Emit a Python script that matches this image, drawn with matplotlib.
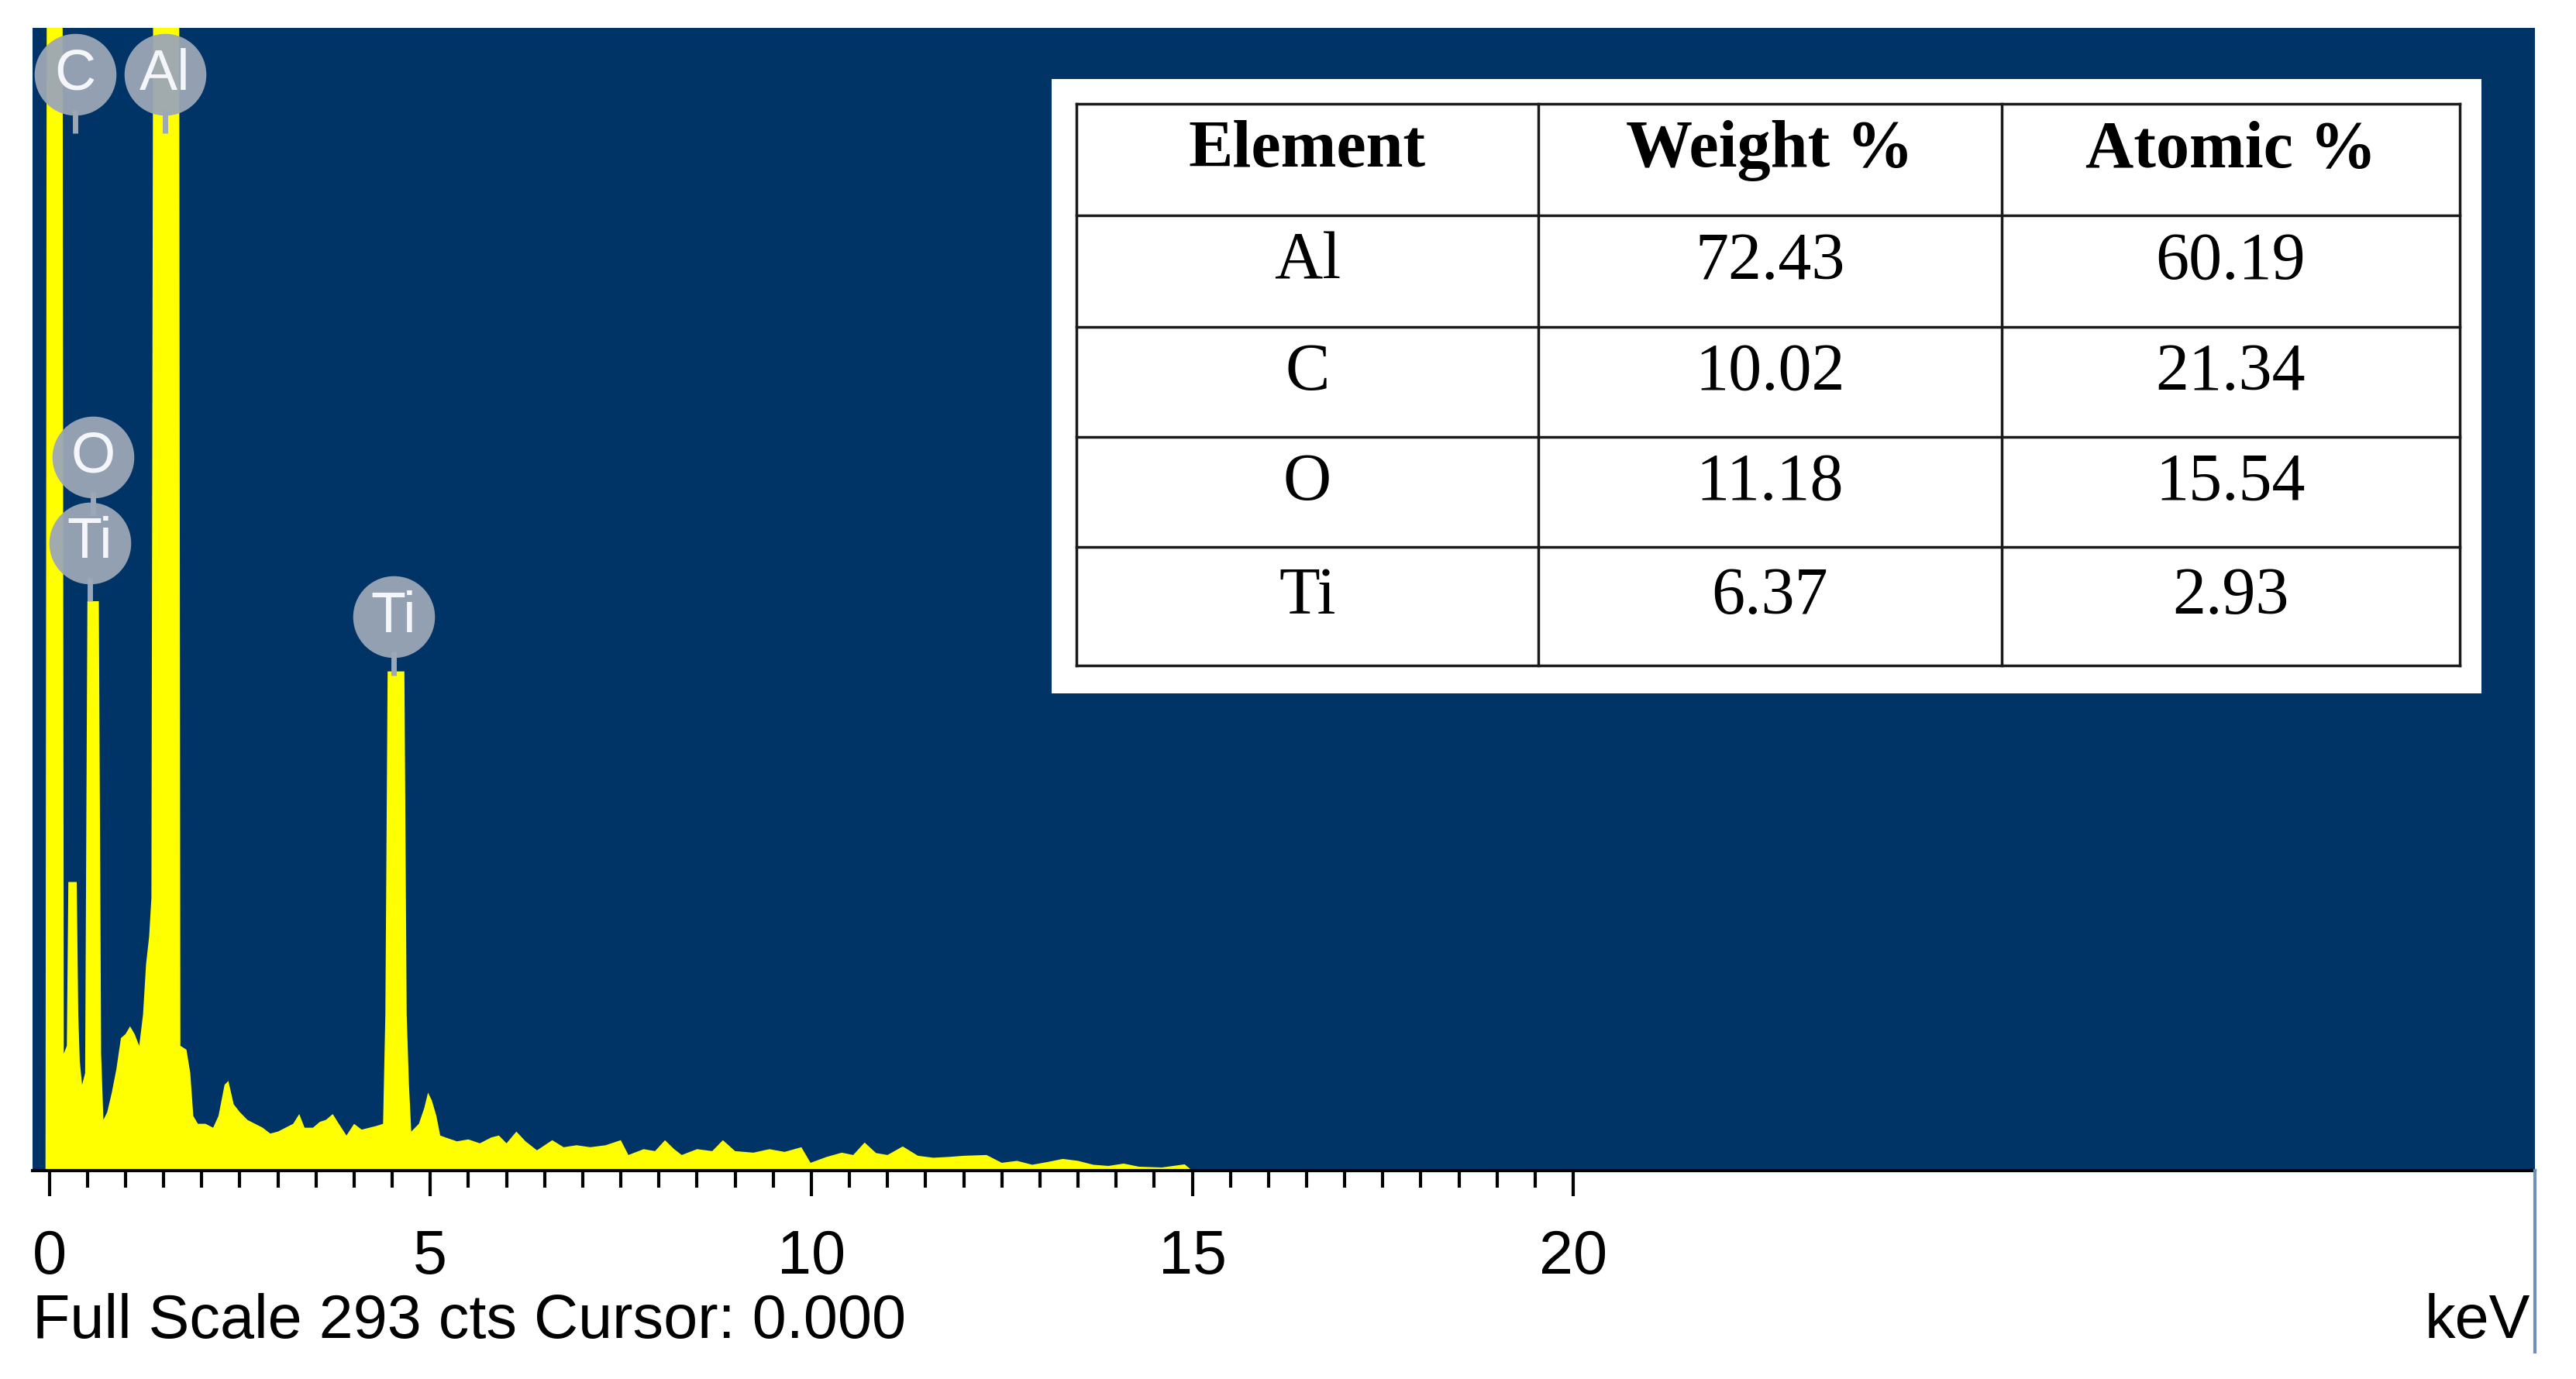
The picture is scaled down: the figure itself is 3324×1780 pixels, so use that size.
import matplotlib
matplotlib.use("Agg")
import matplotlib.pyplot as plt
from matplotlib.lines import Line2D
from matplotlib.ticker import FixedLocator

# EDS spectrum (keV, counts). Off-scale peaks set above full scale.
energy = [-0.05, -0.03, 0.17, 0.19, 0.23, 0.25, 0.36, 0.38, 0.40, 0.43, 0.47, 0.50, 0.65,
          0.68, 0.71, 0.76, 0.82, 0.88, 0.94, 1.00, 1.06, 1.12, 1.18, 1.23, 1.27, 1.31,
          1.34, 1.37, 1.70, 1.72, 1.80, 1.85, 1.89, 1.95, 2.05, 2.15, 2.22, 2.30, 2.35,
          2.42, 2.50, 2.60, 2.70, 2.80, 2.90, 3.00, 3.10, 3.20, 3.28, 3.35, 3.46, 3.55,
          3.63, 3.72, 3.80, 3.90, 4.00, 4.10, 4.20, 4.30, 4.38, 4.41, 4.44, 4.66, 4.69,
          4.72, 4.75, 4.85, 4.92, 4.97, 5.02, 5.08, 5.13, 5.20, 5.35, 5.50, 5.65, 5.80,
          5.90, 6.00, 6.13, 6.25, 6.40, 6.50, 6.60, 6.75, 6.92, 7.10, 7.30, 7.50, 7.60,
          7.80, 7.95, 8.08, 8.20, 8.30, 8.50, 8.70, 8.84, 9.00, 9.24, 9.45, 9.65, 9.87,
          9.99, 10.2, 10.4, 10.55, 10.7, 10.85, 11.0, 11.2, 11.4, 11.6, 11.8, 12.0, 12.3,
          12.5, 12.7, 12.9, 13.1, 13.3, 13.5, 13.7, 13.9, 14.1, 14.3, 14.6, 14.9, 15.0]
counts = [0, 380, 380, 30, 32, 74, 74, 40, 28, 22, 25, 146, 146,
          30, 13, 15, 20, 26, 34, 35, 37, 35, 32, 40, 53, 60,
          70, 380, 380, 32, 31, 25, 14, 12, 12, 11, 14, 22, 23,
          17, 15, 13, 12, 11, 9.5, 10, 11, 12, 14.5, 11, 11, 12.5,
          13, 14.5, 12, 9, 12, 10.5, 11, 11.5, 12, 40, 128, 128, 40,
          22, 10, 12, 16, 20, 18, 14, 9, 8.5, 7.5, 8, 7, 8.5,
          9, 7, 10, 7.5, 5.2, 6.5, 7.8, 6, 6.5, 6, 6.5, 7.8, 4,
          5.5, 5, 7.8, 5.5, 4, 5.5, 5, 7.8, 5, 4.6, 5.5, 4.8, 6,
          2, 3.5, 4.6, 4, 7.2, 4.5, 4, 6.2, 3.8, 3.3, 3.5, 3.8, 4,
          2, 2.5, 1.5, 2.2, 3, 2.5, 1.5, 1.2, 1.8, 1.0, 0.8, 1.6, 0]

# peak labels
label_text = ["C", "Al", "O", "Ti", "Ti"]
label_kev = [0.34, 1.52, 0.57, 0.53, 4.52]
label_cts = [281.0, 281.0, 183.0, 161.0, 142.0]

# composition table
elements = ["Al", "C", "O", "Ti"]
weight_pct = ["72.43", "10.02", "11.18", "6.37"]
atomic_pct = ["60.19", "21.34", "15.54", "2.93"]
col_labels = ["Element", "Weight %", "Atomic %"]

full_scale = 293
major_ticks = [0, 5, 10, 15, 20]
minor_ticks = [i * 0.5 for i in range(41)]

W, H = 3324, 1780
def fx(px):
    return px / W
def fy(py):
    return 1 - py / H

fig = plt.figure(figsize=(W / 100, H / 100), dpi=100)
fig.patch.set_facecolor("white")

ax = fig.add_axes([fx(42), fy(1511), (3271 - 42) / W, (1511 - 36) / H])
ax.set_facecolor("#003466")
ax.fill_between(energy, counts, 0, color="#ffff00", linewidth=0)
ax.set_xlim(-0.22, 32.62)
ax.set_ylim(0, full_scale)

for s in ["left", "right", "top"]:
    ax.spines[s].set_visible(False)
ax.spines["bottom"].set_linewidth(3)
ax.spines["bottom"].set_color("black")
ax.set_yticks([])
ax.xaxis.set_major_locator(FixedLocator(major_ticks))
ax.xaxis.set_minor_locator(FixedLocator(minor_ticks))
ax.tick_params(axis="x", which="major", direction="out", length=24, width=3, pad=30,
               labelsize=57, colors="black")
ax.tick_params(axis="x", which="minor", direction="out", length=16, width=3)
for t in ax.get_xticklabels():
    t.set_fontfamily("Liberation Sans")

# element markers
for txt, x, y in zip(label_text, label_kev, label_cts):
    ax.plot([x, x], [y - 9, y - 15], color="#9ca7b7", lw=5, solid_capstyle="butt", zorder=4)
    ax.plot(x, y, "o", ms=76, color="#9ca7b7", alpha=0.95, mec="none", zorder=5)
    ax.text(x, y, txt, color="#f4f6fa", fontsize=53, ha="center", va="center",
            family="Liberation Sans", zorder=6)

# white panel with table
box = fig.add_axes([fx(1357), fy(895), (3202 - 1357) / W, (895 - 102) / H])
box.set_facecolor("white")
box.set_xticks([])
box.set_yticks([])
for s in box.spines.values():
    s.set_visible(False)

col_edges = [1389, 1985, 2583, 3174]
row_edges = [134, 278, 422, 564, 706, 859]
for yy in row_edges:
    fig.add_artist(Line2D([fx(col_edges[0]), fx(col_edges[-1])], [fy(yy), fy(yy)],
                          color="#1a1a1a", lw=2.5, transform=fig.transFigure))
for xx in col_edges:
    fig.add_artist(Line2D([fx(xx), fx(xx)], [fy(row_edges[0]), fy(row_edges[-1])],
                          color="#1a1a1a", lw=2.5, transform=fig.transFigure))

rows = [col_labels] + [[e, w, a] for e, w, a in zip(elements, weight_pct, atomic_pct)]
for i, row in enumerate(rows):
    yc = (row_edges[i] + row_edges[i + 1]) / 2 - 11
    for j, val in enumerate(row):
        xc = (col_edges[j] + col_edges[j + 1]) / 2
        fig.text(fx(xc), fy(yc), val, fontsize=62, family="Liberation Serif",
                 fontweight="bold" if i == 0 else "normal", ha="center", va="center",
                 color="black")

fig.text(fx(42), fy(1707), "Full Scale 293 cts Cursor: 0.000", fontsize=57,
         family="Liberation Sans", ha="left", va="center")
fig.text(fx(3265), fy(1707), "keV", fontsize=57, family="Liberation Sans",
         ha="right", va="center")
fig.add_artist(Line2D([fx(3271), fx(3271)], [fy(1511), fy(1745)],
                      color="#7090b8", lw=3, transform=fig.transFigure))

fig.savefig("out.png", dpi=100)
